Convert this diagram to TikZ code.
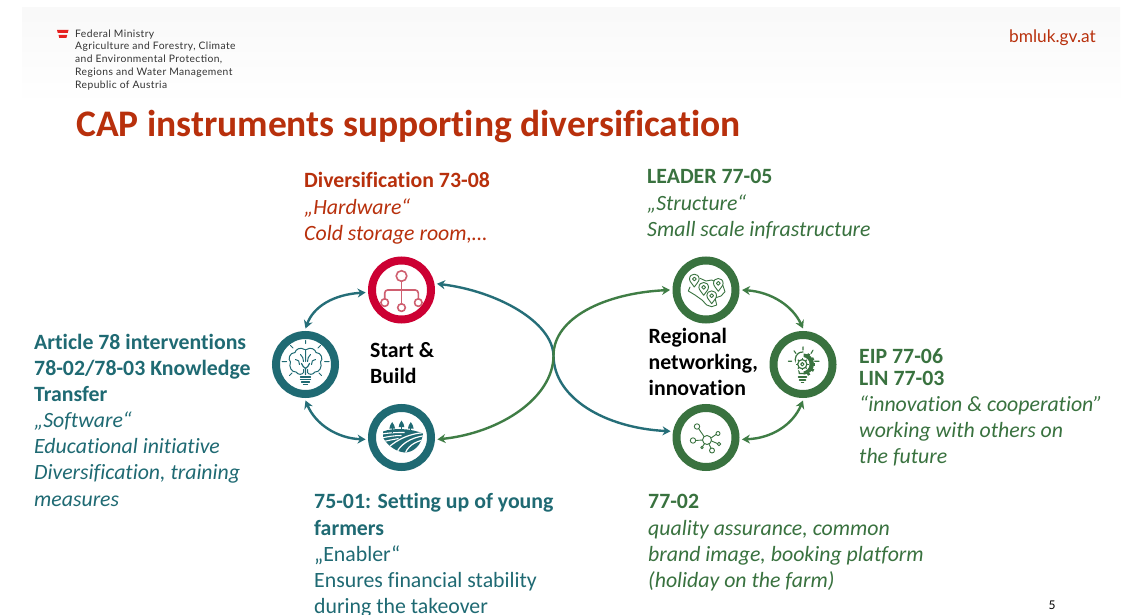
\documentclass[tikz,border=0pt]{standalone}
\usepackage{fontspec}
\setmainfont[Ligatures=NoCommon]{Carlito}
\newfontfamily\headfont{Lato}
\newfontfamily\headsm[LetterSpace=4]{Lato}
\usetikzlibrary{arrows.meta,calc}
\definecolor{titlered}{HTML}{B8300C}
\definecolor{ringred}{HTML}{CC0033}
\definecolor{iconred}{HTML}{CF5F70}
\definecolor{teal1}{HTML}{1F6A73}
\definecolor{teal2}{HTML}{256E78}
\definecolor{green1}{HTML}{39723F}
\definecolor{green2}{HTML}{3F7D45}
\definecolor{head}{HTML}{333333}
\definecolor{flag}{HTML}{E6201F}
\tikzset{
  ring/.style={circle,draw=#1,line width=8pt,fill=white,minimum size=59pt,inner sep=0pt,outer sep=6.5pt},
  blockt/.style={anchor=north west,align=left,inner sep=0pt,text=#1,font=\fontsize{21.8}{26.1}\selectfont},
  centert/.style={anchor=north west,align=left,inner sep=0pt,text=black,font=\fontsize{21.8}{26}\selectfont\bfseries},
  conn/.style={draw=#1,line width=2.4pt,{Stealth[length=8pt,width=9pt]}-{Stealth[length=8pt,width=9pt]}},
  ic/.style={draw=#1,line width=1pt,line cap=round,line join=round}
}
\newcommand{\mappin}[2]{%
  \draw[fill=white] (#1,#2+8) .. controls (#1-1.7,#2+5) and (#1-4.8,#2+2.8) .. (#1-4.8,#2) .. controls (#1-4.8,#2-6.4) and (#1+4.8,#2-6.4) .. (#1+4.8,#2) .. controls (#1+4.8,#2+2.8) and (#1+1.7,#2+5) .. cycle;
  \draw (#1,#2) circle (1.9);}
\begin{document}
\begin{tikzpicture}[x=1pt,y=-1pt]
\useasboundingbox (0,0) rectangle (1128,615);
\fill[white] (0,0) rectangle (1128,615);
\shade[top color=black!2.5,bottom color=white] (22,8) rectangle (1120,105);
% header
\fill[flag] (57,30) -- (68.5,30) -- (67.7,33) -- (57.8,33) -- cycle;
\fill[flag] (58.5,35) -- (67.2,35) -- (66.4,38) -- (59.3,38) -- cycle;
\node[anchor=north west,align=left,inner sep=0pt,text=head,font=\headsm\fontsize{10.3}{12.7}\selectfont] (hdr) at (75,29.5) {Federal Ministry\\Agriculture and Forestry, Climate\\and Environmental Protection,\\Regions and Water Management\\Republic of Austria};
\node[anchor=base east,inner sep=0pt,text=titlered,font=\headfont\fontsize{17.3}{20}\selectfont] (url) at (1096,42.5) {bmluk.gv.at};
\node[anchor=base west,inner sep=0pt,text=titlered,font=\fontsize{37.5}{40}\selectfont\bfseries] (title) at (76,136.5) {CAP instruments supporting diversification};
% rings
\node[ring=ringred] (hw) at (401.5,290) {};
\node[ring=teal1] (brain) at (305.5,364.5) {};
\node[ring=teal1] (farm) at (401.5,437.5) {};
\node[ring=green1] (map) at (706,290) {};
\node[ring=green1] (idea) at (803,364.5) {};
\node[ring=green1] (net) at (706,437.5) {};
% connectors
\draw[conn=teal2] (hw.184) .. controls +(-32,2) and +(8,-22) .. (brain.north);
\draw[conn=teal2] (brain.south) .. controls +(10,24) and +(-28,-1) .. (farm.183);
\draw[conn=green2] (map.east) .. controls +(30,2) and +(-10,-22) .. (idea.north);
\draw[conn=green2] (idea.south) .. controls +(-10,24) and +(30,-1) .. (net.-3);
\coordinate (xing) at (553.5,356);
\draw[conn=teal2] (hw.10) .. controls (497,291) and (553,322) .. (xing) .. controls (554,398) and (605,428) .. (net.170);
\draw[conn=green2] (farm.-3) .. controls (500,433) and (553,398) .. (xing) .. controls (553,318) and (605,293) .. (map.west);
% red icon
\begin{scope}[shift={(hw.center)},ic=iconred,line width=1.6pt]
\draw (0,-14) circle (5.3);
\draw (-16.8,12.6) circle (3.8) (0,17.6) circle (3.8) (16.8,12.6) circle (3.8);
\draw (0,-8.7) -- (0,13.8);
\draw (-16.8,8.8) -- (-16.8,3) arc[start angle=180,end angle=270,radius=3] -- (13.8,0) arc[start angle=-90,end angle=0,radius=3] -- (16.8,8.8);
\end{scope}
% brain bulb icon
\begin{scope}[shift={(brain.center)},ic=teal1]
\draw (0,-24) -- (0,-21) (-15,-19) -- (-12.5,-16.5) (15,-19) -- (12.5,-16.5) (-23.5,-3) -- (-19,-3) (23.5,-3) -- (19,-3) (-16,11) -- (-13.5,8.5) (16,11) -- (13.5,8.5);
\draw (-1,-15) .. controls (-5,-18) and (-10,-15) .. (-10.5,-12) .. controls (-16,-12) and (-18,-5) .. (-15,-2.5) .. controls (-17,2) and (-14,8) .. (-9.5,7.5) .. controls (-7,11) and (-3,10) .. (-2,8) -- (-2,5);
\draw (1,-15) .. controls (5,-18) and (10,-15) .. (10.5,-12) .. controls (16,-12) and (18,-5) .. (15,-2.5) .. controls (17,2) and (14,8) .. (9.5,7.5) .. controls (7,11) and (3,10) .. (2,8) -- (2,5);
\draw (0,-15) -- (0,-3) (-5,-10) .. controls (-3,-8) and (-2,-6) .. (-2,-3) (5,-10) .. controls (3,-8) and (2,-6) .. (2,-3);
\draw (-10,-5) .. controls (-7,-5) and (-6,-3) .. (-6,0) (10,-5) .. controls (7,-5) and (6,-3) .. (6,0);
\draw[line width=1.2pt] (-4,-1) .. controls (-4,2) and (-1,2) .. (0,4) .. controls (1,2) and (4,2) .. (4,-1) (0,4) -- (0,10);
\draw[line width=1.2pt] (-5,12.5) -- (5,12.5) (-5,15) -- (5,15) (-4,17.5) -- (4,17.5) (-2,20) -- (2,20);
\end{scope}
% fields icon
\begin{scope}[shift={(farm.center)}]
\clip (-18.5,-6) -- (-18.5,0) .. controls (-14,8) and (-6,14) .. (3,15) .. controls (12,15) and (20,8) .. (21.5,-4) .. controls (10,-9) and (-8,-10) .. (-18.5,-6) -- cycle;
\fill[teal1] (-22,-12) rectangle (24,22);
\draw[white,line width=1.1pt] (-22,-3) .. controls (-12,-5) and (-4,-5) .. (3,-5);
\draw[white,line width=1.1pt] (-22,1) .. controls (-14,-1) and (-7,-2) .. (0,-2);
\draw[white,line width=1.1pt] (-22,5) .. controls (-14,3) and (-8,2) .. (-3,1);
\draw[white,line width=1.2pt] (-16,13) .. controls (-10,6) and (4,-4) .. (24,-5);
\draw[white,line width=1.2pt] (-6,18) .. controls (-3,8) and (8,0) .. (24,-2);
\draw[white,line width=1.2pt] (3,18) .. controls (5,10) and (12,4) .. (24,2);
\draw[white,line width=1.2pt] (11,18) .. controls (12,12) and (17,8) .. (24,7);
\end{scope}
\begin{scope}[shift={(farm.center)}]
\foreach \x/\yy in {-9.3/-6,0/-7.5,9.3/-6}{
\fill[teal1] (\x,\yy-9.5) .. controls (\x+1.5,\yy-7) and (\x+3.2,\yy-4.5) .. (\x+2.8,\yy-3) -- (\x-2.8,\yy-3) .. controls (\x-3.2,\yy-4.5) and (\x-1.5,\yy-7) .. cycle;
\draw[teal1,line width=.9pt] (\x,\yy-4) -- (\x,\yy+1);}
\end{scope}
% map icon
\begin{scope}[shift={(map.center)},ic=green1,line width=.9pt]
\draw (-16,-3) -- (-17.7,1) -- (-11,5) -- (-4,10) -- (0.7,15) -- (5.7,16.7) -- (10.7,15) -- (9,8) -- (15,6) -- (19,1.7) -- (16.7,-5) -- (10,-8) -- (5.7,-10) -- (0,-9) -- (-6,-11.7);
\mappin{-11.7}{-11}
\mappin{12.3}{-6.7}
\mappin{-2.3}{-2.7}
\mappin{5.7}{5.7}
\end{scope}
% idea icon
\begin{scope}[shift={(idea.center)},ic=green1]
\draw[line width=1.1pt] (0,-17.7) -- (0,-14.5) (-9,-13.7) -- (-7,-11) (10,-14.3) -- (8,-11) (-14.7,-3.3) -- (-11.3,-3.3) (11.5,-3.3) -- (16,-3.3);
\draw[line width=1.2pt] (0,-12.5) .. controls (-7,-12.5) and (-9,-6) .. (-7,-1.5) .. controls (-6,2) and (-4,4) .. (-3.7,9) -- (3,9);
\fill[green1] (0.5,-11) arc[start angle=-90,end angle=90,radius=10.5] -- cycle;
\foreach \a in {-60,-30,0,30,60}{\draw[line width=2.6pt,line cap=butt] (\a:9) -- (\a:12.3);}
\fill[white] (-.7,-.3) circle (7.2);
\draw[line width=1.2pt] (-.7,-.3) circle (4.6);
\draw[line width=1pt] (-.7,-.3) circle (1.7);
\foreach \a in {0,45,...,315}{\draw[line width=1.2pt,line cap=butt] ($(-.7,-.3)+(\a:4.6)$) -- ($(-.7,-.3)+(\a:6.2)$);}
\draw[line width=1.5pt] (-4.5,12.5) -- (3.5,12.5) (-3.5,15.3) -- (2.5,15.3) (-1.5,17.8) -- (.5,17.8);
\end{scope}
% network icon
\begin{scope}[shift={(net.center)},ic=green1,line width=.9pt]
\draw (1,2.5) circle (4.5);
\draw (-2,-1) -- (-7.3,-8.8); \draw (-9,-11) circle (2.7);
\draw (5,.5) -- (10,-3); \draw (12,-4) circle (2);
\draw (-3.5,2.5) -- (-10.3,3); \draw (-13,3) circle (2.7);
\draw (5.5,3.5) -- (11.4,6); \draw (13,6.5) circle (1.7);
\draw (3,6.5) -- (5,10.7); \draw (6,13) circle (2.5);
\draw (-1.5,6.3) -- (-3.5,9); \draw (-4,10) circle (1.2);
\end{scope}
% centre labels
\node[centert] (lsb) at (370,342.5) {Start \&\\Build};
\node[centert] (lrn) at (648.5,328.5) {Regional\\networking,\\innovation};
% text blocks
\node[blockt=titlered] (t1) at (304,172.5) {\textbf{Diversification 73-08}\\\textit{„Hardware“}\\\textit{Cold storage room,…}};
\node[blockt=green1] (t2) at (647,169.5) {\textbf{LEADER 77-05}\\\textit{„Structure“}\\\textit{Small scale infrastructure}};
\node[blockt=teal1] (t3) at (34,334) {\textbf{Article 78 interventions}\\\textbf{78-02/78-03 Knowledge}\\\textbf{Transfer}\\\textit{„Software“}\\\textit{Educational initiative}\\\textit{Diversification, training}\\\textit{measures}};
\node[blockt=green1] (t4) at (859,348.5) {\textbf{EIP 77-06}\\[-4pt]\textbf{LIN 77-03}\\\textit{“innovation \& cooperation”}\\\textit{working with others on}\\\textit{the future}};
\node[blockt=teal1] (t5) at (314,493.5) {\textbf{75-01: Setting up of young}\\\textbf{farmers}\\„Enabler“\\Ensures financial stability\\during the takeover};
\node[blockt=green1] (t6) at (648,494.5) {\textbf{77-02}\\\textit{quality assurance, common}\\\textit{brand image, booking platform}\\\textit{(holiday on the farm)}};
\node[anchor=base,inner sep=0pt,text=black,font=\headfont\fontsize{12}{14}\selectfont] (pg) at (1052,609) {5};
\end{tikzpicture}
\end{document}
